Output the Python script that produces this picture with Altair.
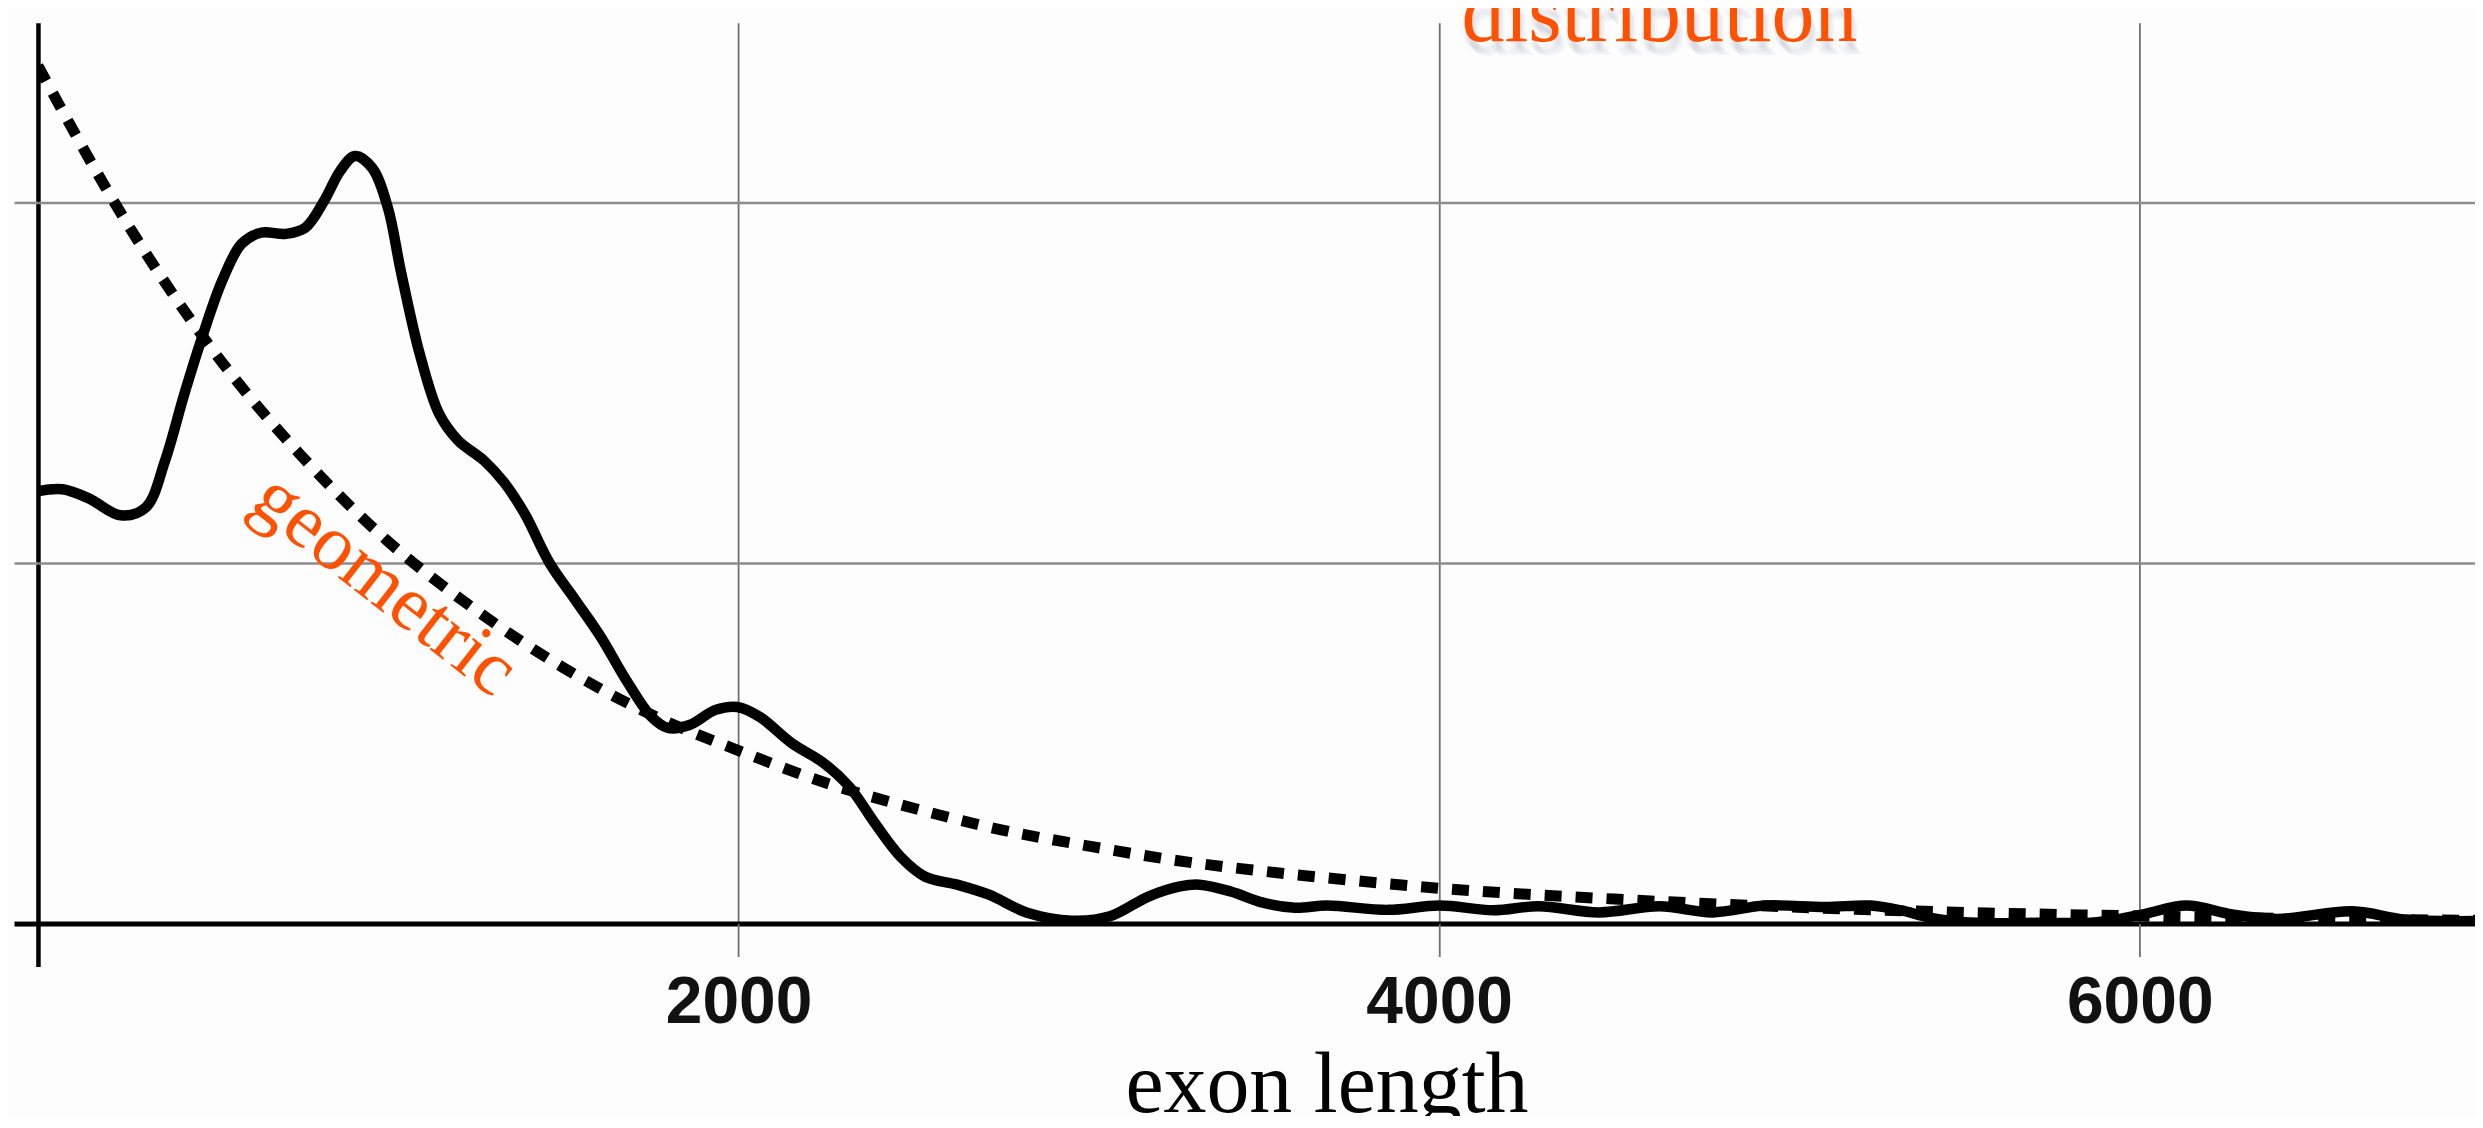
import altair as alt
import pandas as pd

# ---- empirical exon length distribution (solid curve) ----
emp_x = [0, 70, 145, 236, 308, 363, 418, 472, 526, 581, 636, 708, 763, 817, 863,
         905, 954, 999, 1036, 1090, 1145, 1199, 1273, 1330, 1389, 1461, 1534, 1607,
         1679, 1752, 1798, 1860, 1934, 1997, 2061, 2151, 2242, 2316, 2388, 2462,
         2533, 2624, 2715, 2824, 2952, 3060, 3170, 3260, 3316, 3405, 3497, 3588,
         3681, 3854, 4001, 4155, 4284, 4457, 4629, 4780, 4930, 5102, 5230, 5317,
         5404, 5532, 5703, 5877, 6005, 6134, 6264, 6394, 6608, 6758, 6957]
emp_y = [1.20, 1.205, 1.18, 1.133, 1.155, 1.285, 1.47, 1.637, 1.784, 1.886, 1.917,
         1.914, 1.931, 2.006, 2.089, 2.13, 2.097, 1.986, 1.81, 1.58, 1.415, 1.341,
         1.285, 1.225, 1.138, 1.0, 0.898, 0.795, 0.676, 0.573, 0.543, 0.551, 0.593,
         0.601, 0.573, 0.501, 0.446, 0.38, 0.28, 0.186, 0.13, 0.108, 0.08, 0.03,
         0.008, 0.02, 0.075, 0.103, 0.108, 0.089, 0.058, 0.044, 0.05, 0.038, 0.05,
         0.037, 0.048, 0.031, 0.048, 0.031, 0.05, 0.046, 0.05, 0.037, 0.016, 0.002,
         0.002, 0.004, 0.025, 0.05, 0.025, 0.013, 0.034, 0.011, 0.007]

# ---- geometric distribution (dashed curve) ----
geo_x = [0, 250, 500, 750, 1000, 1250, 1500, 1750, 2000, 2250, 2500, 2750, 3000,
         3250, 3500, 3750, 4000, 4500, 5000, 5500, 6000, 6500, 6957]
geo_y = [2.38, 1.95, 1.59, 1.30, 1.06, 0.87, 0.71, 0.58, 0.48, 0.39, 0.32, 0.26,
         0.215, 0.175, 0.145, 0.12, 0.098, 0.068, 0.046, 0.031, 0.021, 0.013, 0.009]

# ---- axes ----
x_ticks = [0, 2000, 4000, 6000]
y_ticks = [0, 1, 2]
x_title = "exon length"

# ---- annotations ----
ann_label = ["geometric"]
ann_x = [990]
ann_y = [0.94]
top_label = ["distribution"]
top_x = [4629]
top_y = [2.449]
shadow_dx = [-2, 0, 2, 4, 6, 1, 3, 5]
shadow_dy = [6, 8, 10, 12, 14, 11, 9, 13]

ORANGE = "#ff5100"

emp_df = pd.DataFrame({"x": emp_x, "y": emp_y})
geo_df = pd.DataFrame({"x": geo_x, "y": geo_y})
ann_df = pd.DataFrame({"x": ann_x, "y": ann_y, "label": ann_label})
top_df = pd.DataFrame({"x": top_x, "y": top_y, "label": top_label})

x_scale = alt.Scale(domain=[0, 6957], nice=False, zero=False)
y_scale = alt.Scale(domain=[0, 2.5], nice=False, zero=False)


def cond(v0, v):
    return {"condition": {"test": "datum.value === 0", "value": v0}, "value": v}


x_axis = alt.Axis(
    values=x_ticks, format="d",
    labelExpr="datum.value === 0 ? '' : datum.label",
    domain=False, grid=True,
    gridColor=cond("#000000", "#707070"), gridWidth=cond(4.5, 1.8),
    ticks=True, tickColor=cond("#000000", "#707070"), tickWidth=cond(4.5, 1.8),
    tickSize=cond(43, 33),
    labelFont="Liberation Sans", labelFontWeight="bold", labelFontSize=66,
    labelColor="#111111", labelBaseline="alphabetic", labelPadding=66,
    labelOverlap=False, labelFlush=False,
    title=x_title, titleFont="Liberation Serif", titleFontSize=86,
    titleFontWeight="normal", titleColor="#000000",
    titleX=1290, titleY=188, titleBaseline="alphabetic", titleAlign="center",
)
y_axis = alt.Axis(
    values=y_ticks, labels=False, domain=False, grid=True,
    gridColor=cond("#000000", "#8c8c8c"), gridWidth=cond(5, 2.5),
    ticks=True, tickColor=cond("#000000", "#8c8c8c"), tickWidth=cond(5, 2.5),
    tickSize=24, title=None,
)

X = alt.X("x:Q", scale=x_scale, axis=x_axis)
Y = alt.Y("y:Q", scale=y_scale, axis=y_axis)

geo = alt.Chart(geo_df).mark_line(
    color="#000000", strokeWidth=11, strokeDash=[17, 14], strokeCap="butt",
    interpolate="monotone", clip=True,
).encode(x=X, y=Y)

emp = alt.Chart(emp_df).mark_line(
    color="#000000", strokeWidth=10.5, interpolate="catmull-rom", clip=True,
    strokeJoin="round", strokeCap="round",
).encode(x=X, y=Y)

geo_text = alt.Chart(ann_df).mark_text(
    font="Liberation Serif", fontSize=78, color=ORANGE, angle=38,
    align="center", baseline="middle",
).encode(x=X, y=Y, text="label:N")

shadows = []
for dx, dy in zip(shadow_dx, shadow_dy):
    shadows.append(
        alt.Chart(top_df).mark_text(
            font="Liberation Serif", fontSize=86, color="#8a90a8", opacity=0.035,
            align="center", baseline="alphabetic", dx=dx, dy=dy,
        ).encode(x=X, y=Y, text="label:N")
    )

top_text = alt.Chart(top_df).mark_text(
    font="Liberation Serif", fontSize=86, color=ORANGE,
    align="center", baseline="alphabetic",
).encode(x=X, y=Y, text="label:N")

chart = alt.layer(geo, emp, geo_text, *shadows, top_text).properties(
    width=2440, height=902,
    padding={"left": 30, "top": 14, "right": 0, "bottom": 192},
    autosize=alt.AutoSizeParams(type="none"),
    background="#fdfdfd",
).configure_view(stroke=None)

chart.save("out.html", embed_options={"renderer": "svg", "actions": False})
